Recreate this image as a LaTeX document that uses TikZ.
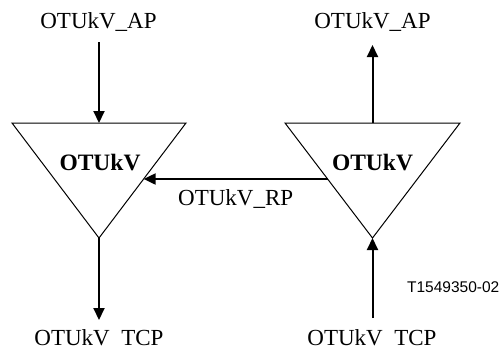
\documentclass[tikz,border=0pt]{standalone}
\usepackage{fontspec}
\setmainfont{Liberation Serif}
\newfontfamily\figfont{Liberation Sans}
\usepackage{tikz}
\usetikzlibrary{
  arrows.meta,
  positioning,
  calc
}
\tikzset{
  trailline/.style={
    line width=1pt, line join=miter
  },
  sigarrow/.style={
    -{Triangle[length=12pt,width=11pt]}, line width=2pt
  },
  ptlabel/.style={
    font=\fontsize{23}{26}\selectfont, inner sep=0pt, anchor=base
  },
  fnlabel/.style={
    font=\fontsize{23.5}{26}\selectfont\bfseries, inner sep=0pt, anchor=base
  },
  annot/.style={
    font=\fontsize{15.5}{18}\selectfont\figfont, inner sep=0pt, anchor=base east
  },
}
\begin{document}
\begin{tikzpicture}[x=1pt,y=-1pt]
  \useasboundingbox (0,0) rectangle (501,349);

  %% Trail termination triangles
  \coordinate (L-tl) at (12,123);
  \coordinate (L-tr) at (186,123);
  \coordinate (L-apex) at (99,238);
  \coordinate (L-top) at (99,123);
  \coordinate (R-tl) at (285,123);
  \coordinate (R-tr) at (460,123);
  \coordinate (R-apex) at (372.5,238);
  \coordinate (R-top) at (372.5,123);
  \draw[trailline] (L-tl) -- (L-tr) -- (L-apex) -- cycle;
  \draw[trailline] (R-tl) -- (R-tr) -- (R-apex) -- cycle;
  \node[fnlabel] (snk) at (100,170.5) {OTUkV};
  \node[fnlabel] (src) at (372.5,170.5) {OTUkV};

  %% Access and connection points
  \node[ptlabel] (apL) at (98.5,28.3) {OTUkV\_AP};
  \node[ptlabel] (apR) at (372.5,28.3) {OTUkV\_AP};
  \node[ptlabel] (tcpL) at (99,345) {OTUkV\phantom{\_}TCP};
  \node[ptlabel] (tcpR) at (372,345) {OTUkV\phantom{\_}TCP};
  \node[ptlabel, anchor=base west] (rp) at (178,205) {OTUkV\_RP};
  \node[annot] (fig) at (499.5,292.7) {T1549350-02};

  \coordinate (L-in) at ($(L-tr)!0.487!(L-apex)$);
  \coordinate (R-out) at ($(R-tl)!0.487!(R-apex)$);
  \coordinate (apL-end) at (99,42);
  \coordinate (apR-end) at (372.5,45);
  \coordinate (tcpL-end) at (99,320);
  \coordinate (tcpR-end) at (372.5,318);

  \draw[sigarrow] (apL-end) -- (L-top);
  \draw[sigarrow] (R-top) -- (apR-end);
  \draw[sigarrow] (L-apex) -- (tcpL-end);
  \draw[sigarrow] (tcpR-end) -- (R-apex);
  \draw[sigarrow] (R-out) -- (L-in);

\end{tikzpicture}
\end{document}
